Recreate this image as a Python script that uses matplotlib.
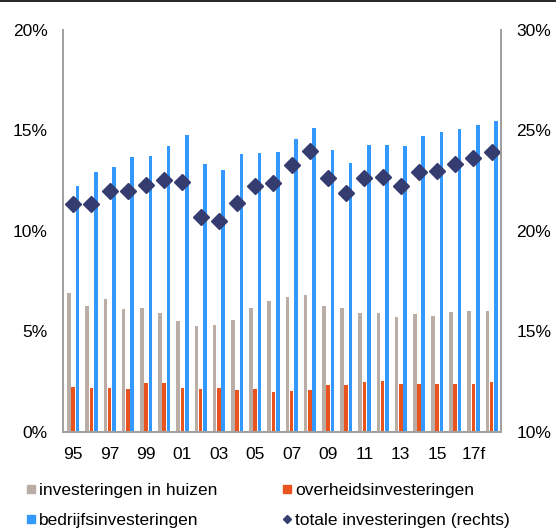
import matplotlib
matplotlib.use("Agg")
import matplotlib.pyplot as plt
from matplotlib.lines import Line2D
import numpy as np

plt.rcParams['font.family'] = ['Liberation Sans', 'DejaVu Sans']

years = ['95', '96', '97', '98', '99', '00', '01', '02', '03', '04', '05', '06',
         '07', '08', '09', '10', '11', '12', '13', '14', '15', '16', '17f', '18f']
huizen = [6.9, 6.27, 6.6, 6.13, 6.17, 5.89, 5.49, 5.27, 5.32, 5.54, 6.18, 6.52,
          6.70, 6.83, 6.28, 6.17, 5.92, 5.90, 5.71, 5.84, 5.77, 5.94, 6.02, 6.02]
overheid = [2.24, 2.17, 2.20, 2.15, 2.45, 2.44, 2.20, 2.12, 2.17, 2.09, 2.14, 1.99,
            2.05, 2.10, 2.35, 2.32, 2.47, 2.52, 2.39, 2.40, 2.39, 2.39, 2.40, 2.47]
bedrijf = [12.25, 12.94, 13.2, 13.7, 13.73, 14.23, 14.79, 13.33, 13.03, 13.82, 13.9, 13.93,
           14.58, 15.14, 14.04, 13.4, 14.28, 14.28, 14.21, 14.74, 14.93, 15.07, 15.27, 15.46]
totaal = [21.33, 21.33, 21.99, 21.97, 22.3, 22.54, 22.45, 20.68, 20.48, 21.39, 22.22, 22.39,
          23.28, 24.0, 22.62, 21.88, 22.62, 22.67, 22.25, 22.92, 23.0, 23.32, 23.65, 23.92]
tick_labels = ['95', '97', '99', '01', '03', '05', '07', '09', '11', '13', '15', '17f']
left_ticks = [0, 5, 10, 15, 20]
right_ticks = [10, 15, 20, 25, 30]

c_gray = '#BAADA6'
c_orange = '#E8531E'
c_blue = '#3399FF'
c_navy = '#353C6F'
c_spine = '#A0A0A0'

fig = plt.figure(figsize=(5.56, 5.29), dpi=100)
ax = fig.add_axes([0.1138, 0.1839, 0.901 - 0.1138, 0.9433 - 0.1839])
x = np.arange(len(years))
w = 0.2
ax.bar(x - 0.23, huizen, width=w, color=c_gray, linewidth=0)
ax.bar(x, overheid, width=w, color=c_orange, linewidth=0)
ax.bar(x + 0.24, bedrijf, width=w, color=c_blue, linewidth=0)
ax.set_xlim(-0.55, 23.51)
ax.set_ylim(0, 20)
ax.set_yticks(left_ticks)
ax.set_yticklabels([f'{v}%' for v in left_ticks])
ax.set_xticks(x[::2])
ax.set_xticklabels(tick_labels)
ax.tick_params(axis='both', length=0, labelsize=12.5, pad=11)

ax2 = ax.twinx()
ax2.plot(x, totaal, linestyle='none', marker='D', markersize=7.8, color=c_navy)
ax2.set_ylim(10, 30)
ax2.set_yticks(right_ticks)
ax2.set_yticklabels([f'{v}%' for v in right_ticks])
ax2.tick_params(axis='y', length=0, labelsize=12.5, pad=11)

for a in (ax, ax2):
    a.spines['top'].set_visible(False)
    for s in ('left', 'right', 'bottom'):
        a.spines[s].set_color(c_spine)
        a.spines[s].set_linewidth(1.3)

fig.add_artist(Line2D([0, 1], [0.9975, 0.9975], transform=fig.transFigure,
                      color='black', linewidth=1.2))

handles = [
    Line2D([], [], linestyle='none', marker='s', markersize=5.8, color=c_gray),
    Line2D([], [], linestyle='none', marker='s', markersize=5.8, color=c_blue),
    Line2D([], [], linestyle='none', marker='s', markersize=5.8, color=c_orange),
    Line2D([], [], linestyle='none', marker='D', markersize=4.3, color=c_navy),
]
labels = ['investeringen in huizen', 'bedrijfsinvesteringen',
          'overheidsinvesteringen', 'totale investeringen (rechts)']
fig.legend(handles, labels, ncol=2, loc='upper left',
           bbox_to_anchor=(25.8 / 556, 1 - 483 / 529), frameon=False,
           fontsize=12.5, handlelength=0.6, handletextpad=0.18,
           columnspacing=3.67, labelspacing=0.85, borderpad=0, borderaxespad=0)

fig.savefig('out.png', dpi=100)
